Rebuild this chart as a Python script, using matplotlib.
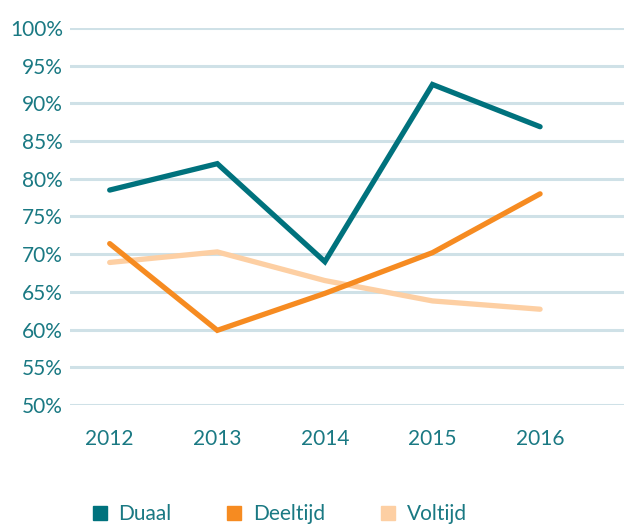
import matplotlib.pyplot as plt
from matplotlib.lines import Line2D

years = [2012, 2013, 2014, 2015, 2016]
duaal = [78.5, 82.0, 69.0, 92.5, 86.9]
deeltijd = [71.4, 59.9, 64.8, 70.2, 78.0]
voltijd = [68.9, 70.3, 66.5, 63.8, 62.7]
yticks = [50, 55, 60, 65, 70, 75, 80, 85, 90, 95, 100]

teal = '#00727d'
orange = '#f68b21'
peach = '#fdcfa3'
grid = '#cfe1e7'
txt = '#1a7983'

plt.rcParams['font.family'] = ['Lato', 'DejaVu Sans']

fig = plt.figure(figsize=(6.24, 5.27), dpi=100)
ax = fig.add_axes([0.112, 0.2315, 0.888, 0.7155])

for y in yticks:
    ax.axhline(y, color=grid, lw=2.2, zorder=0)

ax.plot(years, voltijd, color=peach, lw=3.8, solid_capstyle='round', solid_joinstyle='miter')
ax.plot(years, deeltijd, color=orange, lw=3.8, solid_capstyle='round', solid_joinstyle='miter')
ax.plot(years, duaal, color=teal, lw=3.8, solid_capstyle='round', solid_joinstyle='miter')

ax.set_xlim(2011.63, 2016.78)
ax.set_ylim(50, 100)
ax.set_xticks(years)
ax.set_xticklabels([str(y) for y in years])
ax.set_yticks(yticks)
ax.set_yticklabels([f'{y}%' for y in yticks])
ax.tick_params(length=0, labelsize=15, colors=txt)
ax.tick_params(axis='y', pad=5)
ax.tick_params(axis='x', pad=17)
for s in ax.spines.values():
    s.set_visible(False)

handles = [Line2D([], [], ls='', marker='s', markersize=10, color=c) for c in (teal, orange, peach)]
leg = fig.legend(handles, ['Duaal', 'Deeltijd', 'Voltijd'], loc='center left',
                 bbox_to_anchor=(0.13, 0.025), ncol=3, frameon=False, fontsize=15,
                 handlelength=0.8, handletextpad=0.5, columnspacing=2.6, borderpad=0)
for t in leg.get_texts():
    t.set_color(txt)

fig.savefig('out.png', dpi=100)
